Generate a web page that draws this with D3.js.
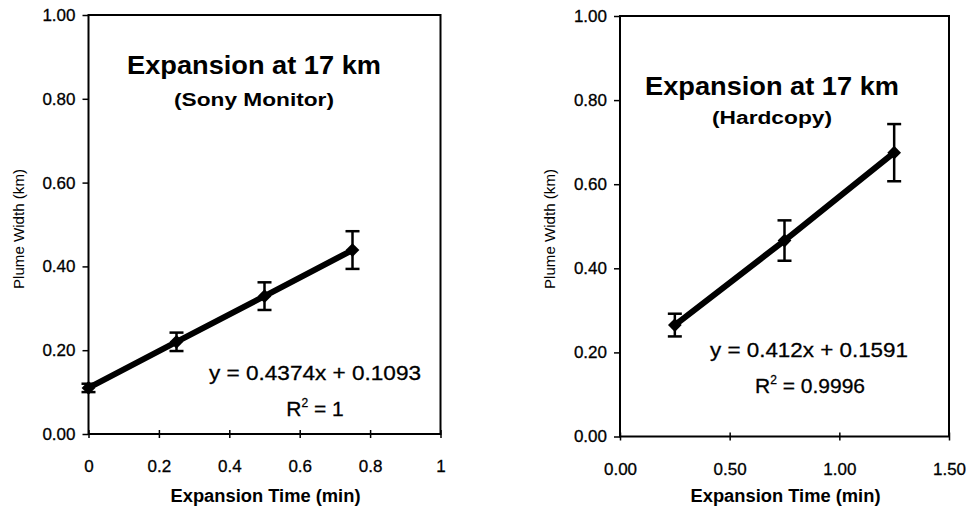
<!DOCTYPE html>
<meta charset="utf-8">
<script src="https://d3js.org/d3.v7.min.js"></script>
<style>
  body { margin: 0; background: #fff; }
  text { font-family: "Liberation Sans", Arial, Helvetica, sans-serif; fill: #000; }
</style>
<div id="my_dataviz"></div>
<script>

// data
var yTicks = [0, 0.2, 0.4, 0.6, 0.8, 1.0];

var leftTime = [0, 0.25, 0.5, 0.75];
var leftWidth = [0.11, 0.22, 0.329, 0.439];
var leftErr = [0.01, 0.022, 0.033, 0.045];
var leftXTicks = [0, 0.2, 0.4, 0.6, 0.8, 1];

var rightTime = [0.25, 0.75, 1.25];
var rightWidth = [0.265, 0.466, 0.675];
var rightErr = [0.027, 0.048, 0.068];
var rightXTicks = [0, 0.5, 1.0, 1.5];

var svg = d3.select("#my_dataviz")
  .append("svg")
    .attr("width", 969)
    .attr("height", 507);

function drawChart(c) {
  var x = d3.scaleLinear().domain(c.xDomain).range([c.left, c.right]);
  var y = d3.scaleLinear().domain([0, 1]).range([c.bottom, c.top]);
  var g = svg.append("g");

  // plot box
  g.append("rect")
    .attr("x", c.left).attr("y", c.top)
    .attr("width", c.right - c.left).attr("height", c.bottom - c.top)
    .attr("fill", "none").attr("stroke", "#000").attr("stroke-width", 2);

  // y axis
  var yAxis = g.append("g")
    .attr("transform", "translate(" + c.left + ",0)")
    .call(d3.axisLeft(y).tickValues(yTicks).tickFormat(d3.format(".2f")).tickSize(6).tickPadding(7));
  yAxis.select(".domain").remove();
  yAxis.selectAll("line").attr("stroke-width", 1.5);
  yAxis.selectAll("text")
    .attr("font-size", 17).attr("font-family", "Liberation Sans, Arial, sans-serif")
    .attr("fill", "#000").attr("stroke", "#000").attr("stroke-width", 0.3);

  // x axis (ticks cross the line)
  var xAxis = g.append("g")
    .attr("transform", "translate(0," + (c.bottom + 4) + ")")
    .call(d3.axisBottom(x).tickValues(c.xTicks).tickFormat(c.xFormat).tickSize(8).tickPadding(0));
  xAxis.select(".domain").remove();
  xAxis.selectAll("line").attr("y1", -8).attr("y2", 0).attr("stroke-width", 1.5);
  xAxis.selectAll("text")
    .attr("y", 34).attr("dy", null)
    .attr("font-size", 17).attr("font-family", "Liberation Sans, Arial, sans-serif")
    .attr("fill", "#000").attr("stroke", "#000").attr("stroke-width", 0.3);

  // axis titles
  g.append("text")
    .attr("x", (c.left + c.right) / 2 + 1).attr("y", 502)
    .attr("text-anchor", "middle")
    .attr("font-size", 18).attr("font-weight", "bold")
    .attr("textLength", 190).attr("lengthAdjust", "spacingAndGlyphs")
    .text("Expansion Time (min)");

  g.append("text")
    .attr("transform", "translate(" + c.yTitleX + ",229) rotate(-90)")
    .attr("text-anchor", "middle")
    .attr("font-size", 15)
    .attr("textLength", 120).attr("lengthAdjust", "spacingAndGlyphs")
    .text("Plume Width (km)");

  // chart titles
  g.append("text")
    .attr("x", c.titleX).attr("y", c.titleY)
    .attr("text-anchor", "middle")
    .attr("font-size", 25).attr("font-weight", "bold")
    .attr("textLength", 254).attr("lengthAdjust", "spacingAndGlyphs")
    .text("Expansion at 17 km");

  g.append("text")
    .attr("x", c.subX).attr("y", c.subY)
    .attr("text-anchor", "middle")
    .attr("font-size", 18).attr("font-weight", "bold")
    .attr("textLength", c.subLen).attr("lengthAdjust", "spacingAndGlyphs")
    .text(c.subtitle);

  // trend equation
  g.append("text")
    .attr("x", c.eqX).attr("y", c.eqY)
    .attr("text-anchor", "middle")
    .attr("font-size", 21).attr("stroke", "#000").attr("stroke-width", 0.3)
    .attr("textLength", c.eqLen).attr("lengthAdjust", "spacingAndGlyphs")
    .text(c.equation);

  var r2 = g.append("text")
    .attr("x", c.r2X).attr("y", c.eqY + 36)
    .attr("text-anchor", "middle")
    .attr("font-size", 21).attr("stroke", "#000").attr("stroke-width", 0.3);
  r2.append("tspan").text("R");
  r2.append("tspan").attr("dy", -9).attr("font-size", 12).text("2");
  r2.append("tspan").attr("dy", 9).text(" = " + c.r2);

  var pts = c.xs.map(function(d, i) { return {x: d, y: c.ys[i], e: c.errs[i]}; });

  // thick line
  g.append("path")
    .datum(pts)
    .attr("fill", "none")
    .attr("stroke", "#000")
    .attr("stroke-width", 6)
    .attr("d", d3.line().x(function(d) { return x(d.x); }).y(function(d) { return y(d.y); }));

  // error bars
  var eb = g.selectAll(".err").data(pts).enter().append("g").attr("class", "err");
  eb.append("line")
    .attr("x1", function(d) { return x(d.x); }).attr("x2", function(d) { return x(d.x); })
    .attr("y1", function(d) { return y(d.y + d.e); }).attr("y2", function(d) { return y(d.y - d.e); })
    .attr("stroke", "#000").attr("stroke-width", 2.5);
  [1, -1].forEach(function(s) {
    eb.append("line")
      .attr("x1", function(d) { return x(d.x) - 7; }).attr("x2", function(d) { return x(d.x) + 7; })
      .attr("y1", function(d) { return y(d.y + s * d.e); }).attr("y2", function(d) { return y(d.y + s * d.e); })
      .attr("stroke", "#000").attr("stroke-width", 2.5);
  });

  // diamond markers
  g.selectAll(".dot").data(pts).enter().append("path")
    .attr("class", "dot")
    .attr("transform", function(d) { return "translate(" + x(d.x) + "," + y(d.y) + ")"; })
    .attr("d", d3.symbol().type(d3.symbolDiamond2).size(120))
    .attr("fill", "#000");
}

drawChart({
  left: 88.5, right: 440.5, top: 15, bottom: 434,
  xDomain: [0, 1], xTicks: leftXTicks, xFormat: d3.format(""),
  xs: leftTime, ys: leftWidth, errs: leftErr,
  yTitleX: 24,
  titleX: 254, titleY: 74, subtitle: "(Sony Monitor)", subX: 254, subY: 106, subLen: 160,
  equation: "y = 0.4374x + 0.1093", eqX: 315, eqY: 379.5, eqLen: 212,
  r2X: 315, r2: "1"
});

drawChart({
  left: 620, right: 949, top: 16, bottom: 436.5,
  xDomain: [0, 1.5], xTicks: rightXTicks, xFormat: d3.format(".2f"),
  xs: rightTime, ys: rightWidth, errs: rightErr,
  yTitleX: 555,
  titleX: 772, titleY: 95, subtitle: "(Hardcopy)", subX: 772, subY: 124, subLen: 120,
  equation: "y = 0.412x + 0.1591", eqX: 809, eqY: 357, eqLen: 198,
  r2X: 810, r2: "0.9996"
});

</script>
